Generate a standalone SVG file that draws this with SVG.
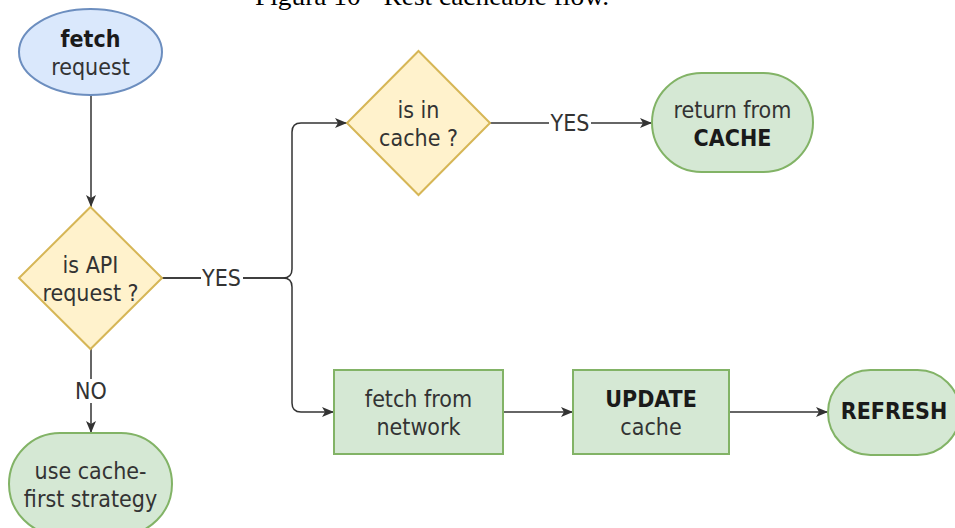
<svg xmlns="http://www.w3.org/2000/svg" width="955" height="528" viewBox="0 0 955 528">
  <defs>
    <marker id="arrow" viewBox="0 0 12 10" refX="12" refY="5" markerWidth="12" markerHeight="10" markerUnits="userSpaceOnUse" orient="auto">
      <path d="M0,0 L12,5 L0,10 L3,5 z" fill="#333333"/>
    </marker>
    <style>
      .t { font-family: "DejaVu Sans Condensed", "DejaVu Sans", sans-serif; font-stretch: condensed; font-size: 23px; fill: #333333; text-anchor: middle; }
      .b { font-weight: bold; fill: #1a1a1a; }
      .edge { fill: none; stroke: #333333; stroke-width: 1.5; }
      .lbl { fill: #ffffff; stroke: none; }
      .blue { fill: #dae8fc; stroke: #6c8ebf; stroke-width: 2; }
      .yellow { fill: #fff2cc; stroke: #d6b656; stroke-width: 2; }
      .green { fill: #d5e8d4; stroke: #82b366; stroke-width: 2; }
      .cap { font-family: "Liberation Serif", "Times New Roman", serif; font-size: 26px; fill: #000000; }
    </style>
  </defs>
  <rect x="0" y="0" width="955" height="528" fill="#ffffff"/>

  <text class="cap" x="255" y="5" textLength="354" lengthAdjust="spacingAndGlyphs">Figura 10 - Rest cacheable flow.</text>

  <g id="connectors">
    <path class="edge" d="M91,96 L91,207" marker-end="url(#arrow)"/>
    <path class="edge" d="M162,278 L283,278 Q292,278 292,269 L292,132 Q292,123 301,123 L347,123" marker-end="url(#arrow)"/>
    <path class="edge" d="M162,278 L283,278 Q292,278 292,287 L292,403 Q292,412 301,412 L334,412" marker-end="url(#arrow)"/>
    <path class="edge" d="M490,123 L652,123" marker-end="url(#arrow)"/>
    <path class="edge" d="M91,349 L91,433" marker-end="url(#arrow)"/>
    <path class="edge" d="M503,412 L573,412" marker-end="url(#arrow)"/>
    <path class="edge" d="M729,412 L828,412" marker-end="url(#arrow)"/>
    <rect class="lbl" x="201" y="266" width="42" height="24"/>
    <text class="t" x="221.5" y="286">YES</text>
    <rect class="lbl" x="549" y="111" width="42" height="24"/>
    <text class="t" x="570" y="131">YES</text>
    <rect class="lbl" x="74" y="379" width="34" height="24"/>
    <text class="t" x="91" y="399">NO</text>
  </g>

  <g id="fetch-request">
    <ellipse class="blue" cx="90.5" cy="52" rx="71.5" ry="43"/>
    <text class="t b" x="90.5" y="47">fetch</text>
    <text class="t" x="90.5" y="75">request</text>
  </g>

  <g id="is-api-request">
    <polygon class="yellow" points="90.5,207 162,278 90.5,349 19,278"/>
    <text class="t" x="90.5" y="273">is API</text>
    <text class="t" x="90.5" y="301">request ?</text>
  </g>

  <g id="is-in-cache">
    <polygon class="yellow" points="418.5,51 490,123 418.5,195 347,123"/>
    <text class="t" x="418.5" y="118">is in</text>
    <text class="t" x="418.5" y="146">cache ?</text>
  </g>

  <g id="return-from-cache">
    <rect class="green" x="652" y="73" width="161" height="99" rx="49.5" ry="49.5"/>
    <text class="t" x="732.5" y="118">return from</text>
    <text class="t b" x="732.5" y="146">CACHE</text>
  </g>

  <g id="fetch-from-network">
    <rect class="green" x="334" y="370" width="169" height="84"/>
    <text class="t" x="418.5" y="407">fetch from</text>
    <text class="t" x="418.5" y="435">network</text>
  </g>

  <g id="update-cache">
    <rect class="green" x="573" y="370" width="156" height="84"/>
    <text class="t b" x="651" y="407">UPDATE</text>
    <text class="t" x="651" y="435">cache</text>
  </g>

  <g id="refresh">
    <rect class="green" x="828" y="370" width="132" height="85" rx="42.5" ry="42.5"/>
    <text class="t b" x="894" y="419">REFRESH</text>
  </g>

  <g id="use-cache-first">
    <rect class="green" x="9" y="433" width="163" height="102" rx="51" ry="51"/>
    <text class="t" x="90.5" y="479">use cache-</text>
    <text class="t" x="90.5" y="507">first strategy</text>
  </g>
</svg>
